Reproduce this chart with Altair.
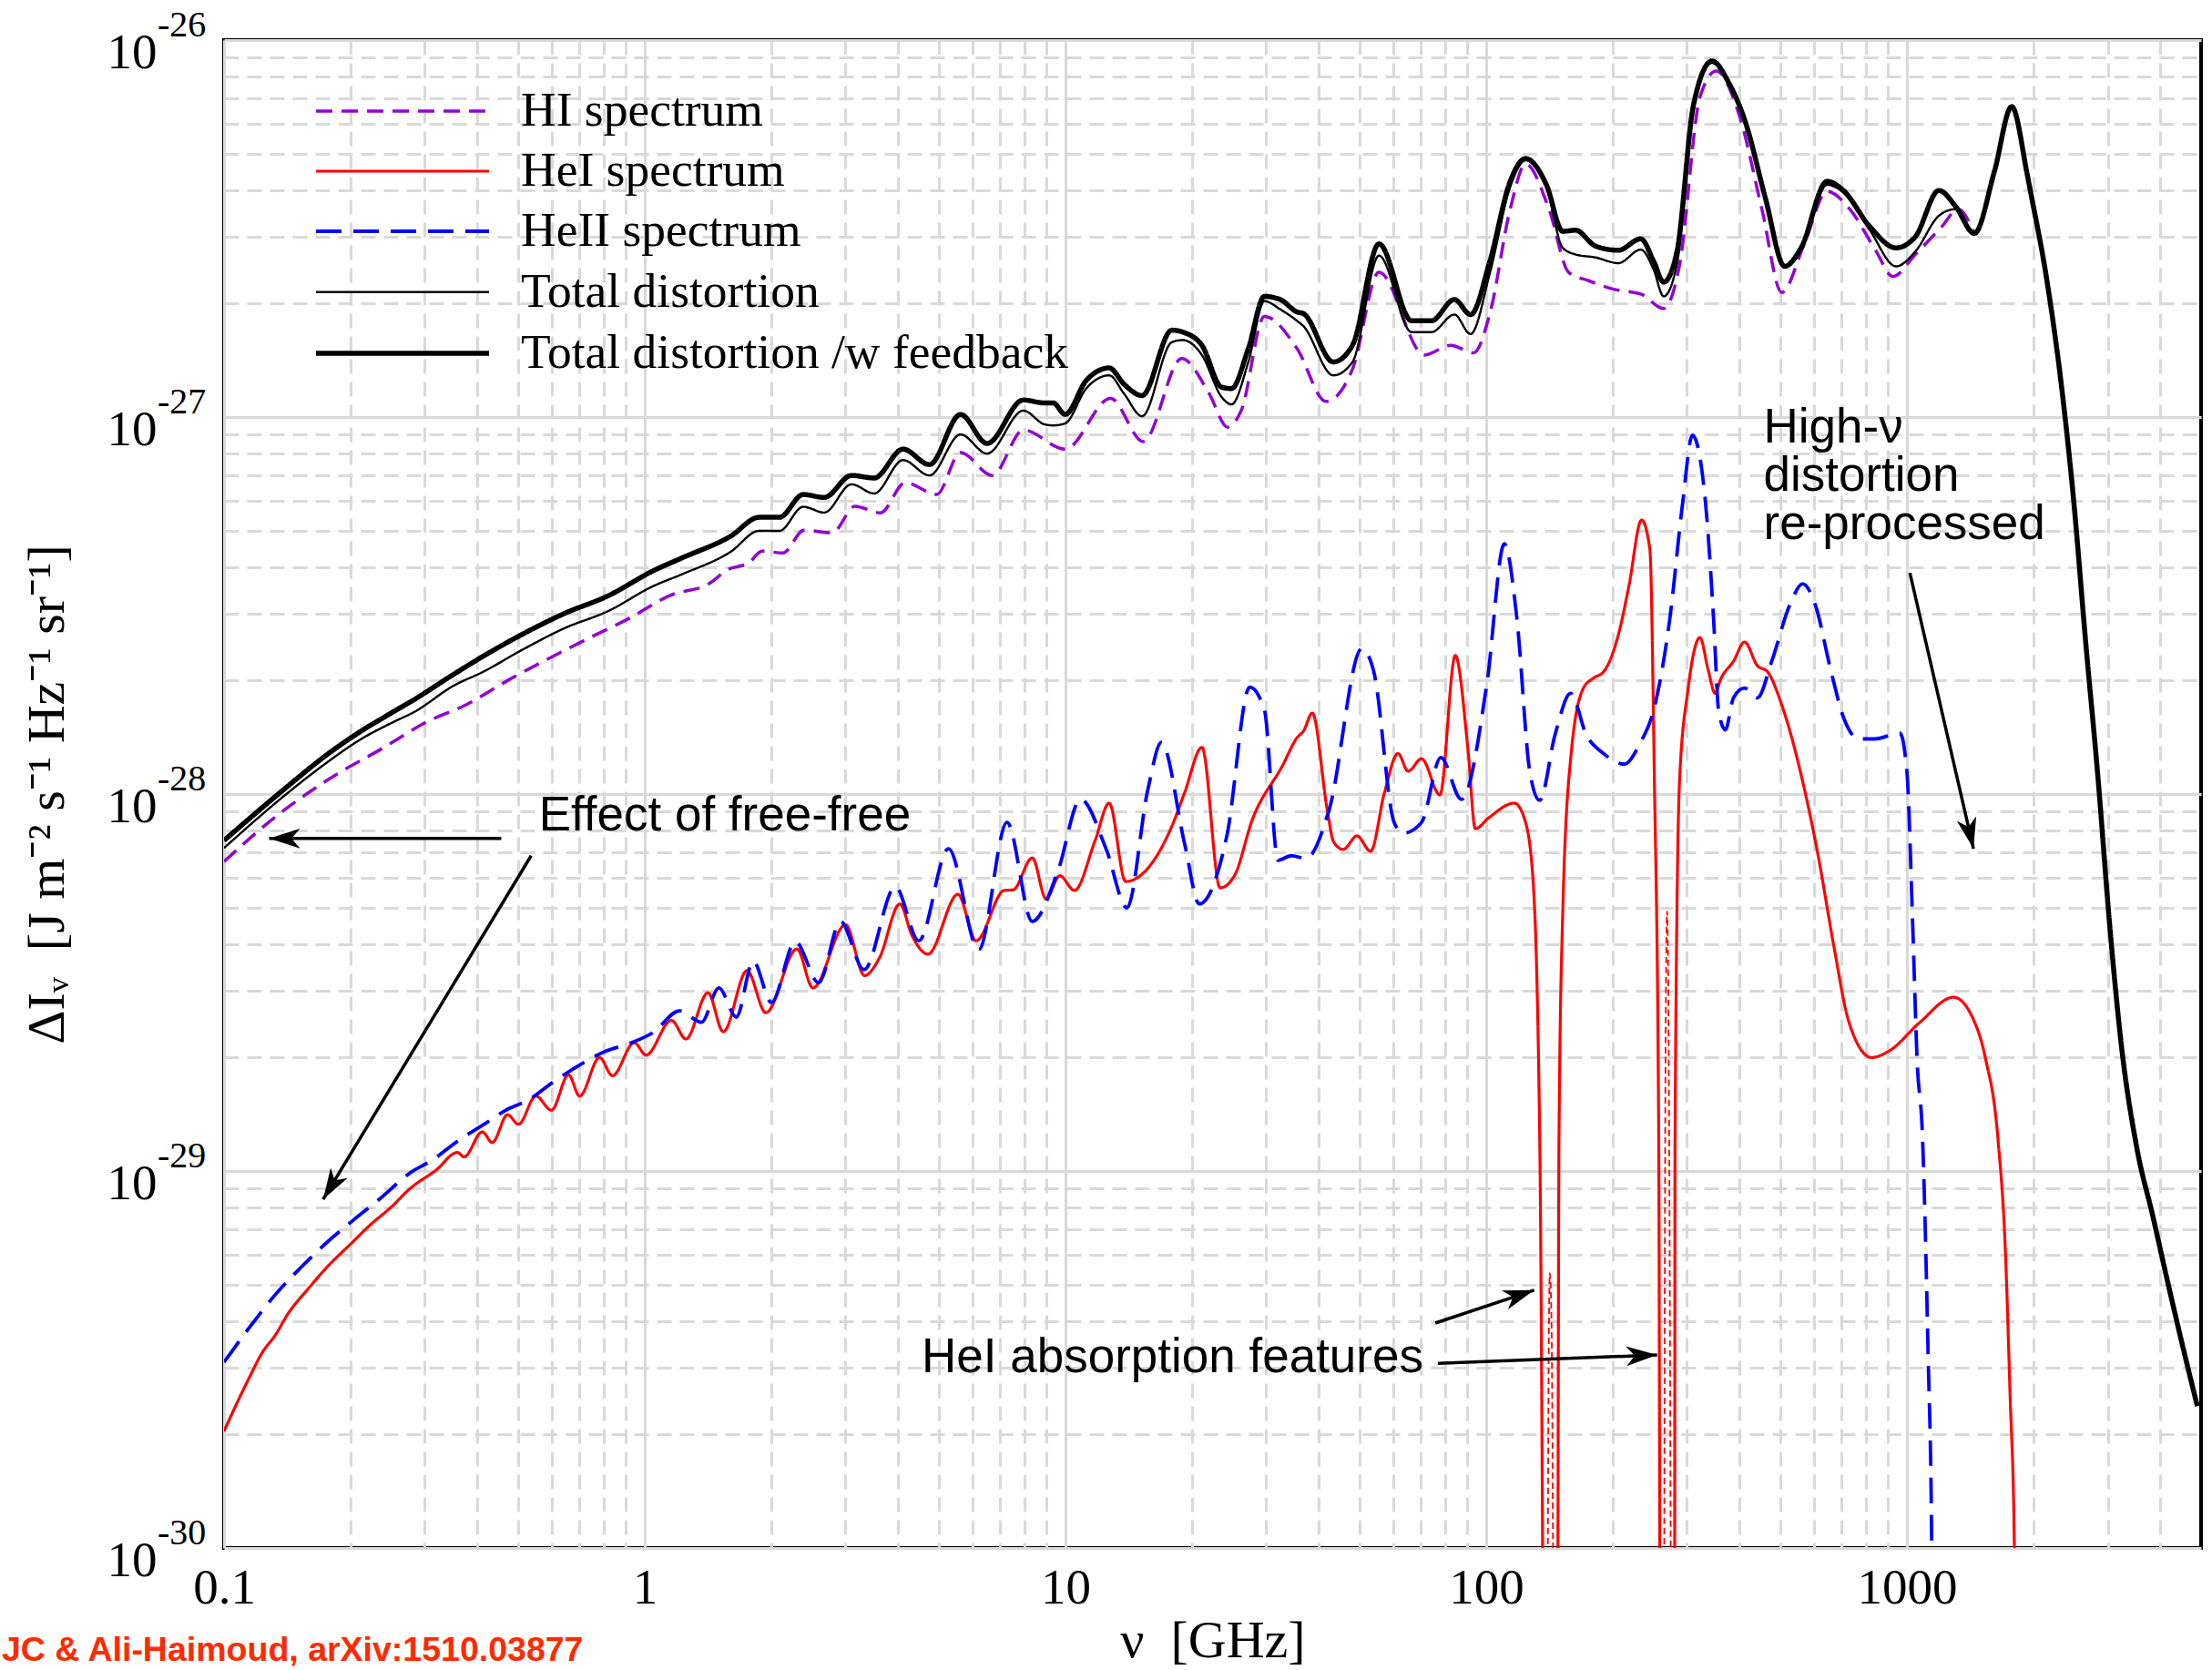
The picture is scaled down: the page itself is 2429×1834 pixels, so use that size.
import math
import altair as alt
import pandas as pd

# ---------------- data ----------------
# frequency in GHz, Delta I_nu in J m^-2 s^-1 Hz^-1 sr^-1

hi_nu = [0.1, 0.130, 0.174, 0.243, 0.302, 0.378, 0.472, 0.588, 0.736, 0.916,
         1.146, 1.43, 1.57, 1.77, 1.90, 2.13, 2.39, 2.79, 3.16, 3.63,
         4.16, 4.94, 5.63, 6.70, 7.94, 9.98, 12.8, 15.3, 18.9, 21.9,
         24.3, 26.2, 29.7, 35.5, 41.6, 48.1, 55.6, 71.3, 82.3, 93.3,
         102, 114, 124, 141, 157, 175, 202, 233, 264, 288,
         322, 352, 399, 452, 504, 570, 646, 731, 845, 925,
         1047, 1210, 1323, 1446]
hi_dI = [6.62e-29, 8.55e-29, 1.08e-28, 1.34e-28, 1.55e-28, 1.73e-28, 2.0e-28, 2.28e-28, 2.59e-28, 2.92e-28,
         3.36e-28, 3.63e-28, 3.93e-28, 4.11e-28, 4.41e-28, 4.36e-28, 5.01e-28, 4.93e-28, 5.80e-28, 5.57e-28,
         6.70e-28, 6.23e-28, 8.05e-28, 7.0e-28, 9.24e-28, 8.22e-28, 1.12e-27, 8.61e-28, 1.43e-27, 1.16e-27,
         9.4e-28, 1.045e-27, 1.85e-27, 1.52e-27, 1.10e-27, 1.34e-27, 2.42e-27, 1.46e-27, 1.55e-27, 1.48e-27,
         1.88e-27, 3.56e-27, 4.69e-27, 3.56e-27, 2.42e-27, 2.30e-27, 2.18e-27, 2.12e-27, 1.94e-27, 2.53e-27,
         7.05e-27, 8.28e-27, 6.34e-27, 3.56e-27, 2.14e-27, 2.88e-27, 3.97e-27, 3.56e-27, 2.75e-27, 2.36e-27,
         2.70e-27, 3.20e-27, 3.56e-27, 3.07e-27]

hei_nu = [0.1, 0.1067, 0.115, 0.1233, 0.1322, 0.1423, 0.158, 0.176, 0.199, 0.224,
          0.249, 0.277, 0.319, 0.359, 0.372, 0.411, 0.434, 0.472, 0.501, 0.551,
          0.600, 0.659, 0.700, 0.781, 0.838, 0.944, 1.007, 1.157, 1.253, 1.413,
          1.537, 1.75, 1.94, 2.30, 2.51, 3.00, 3.33, 3.61, 4.04, 4.31,
          4.71, 5.55, 6.13, 7.15, 7.51, 8.34, 8.99, 9.69, 10.5, 11.76,
          12.7, 13.9, 16.1, 17.9, 19.2, 21.1, 23.3, 25.2, 27.8, 32.8,
          35.5, 36.8, 38.6, 41.9, 43.4, 45.7, 49.3, 53.1, 57.3, 61.7,
          65.2, 70.2, 77.6, 84.4, 90.5, 94.2, 101.4, 116.6, 123.2, 128.9,
          134, 138.7, 147.2, 148.9, 151.8, 158.8, 170.2, 179.8, 190.1, 206.7,
          218.3, 234, 244.8, 251, 257, 260, 280, 281, 288, 302,
          322, 337, 350, 361, 387, 411, 441, 466, 506, 565,
          615, 669, 728, 824, 906, 1073, 1290, 1439, 1535, 1647,
          1714, 1757, 1800, 1830]
hei_dI = [2.04e-30, 2.39e-30, 2.84e-30, 3.30e-30, 3.66e-30, 4.20e-30, 4.85e-30, 5.57e-30, 6.37e-30, 7.24e-30,
          8.0e-30, 8.99e-30, 1.005e-29, 1.12e-29, 1.09e-29, 1.27e-29, 1.19e-29, 1.41e-29, 1.33e-29, 1.58e-29,
          1.45e-29, 1.80e-29, 1.58e-29, 2.0e-29, 1.79e-29, 2.19e-29, 2.03e-29, 2.51e-29, 2.24e-29, 2.97e-29,
          2.34e-29, 3.40e-29, 2.63e-29, 3.88e-29, 3.06e-29, 4.50e-29, 3.30e-29, 3.67e-29, 5.11e-29, 4.23e-29,
          3.76e-29, 5.42e-29, 4.08e-29, 5.55e-29, 5.57e-29, 6.77e-29, 5.27e-29, 6.07e-29, 5.55e-29, 7.53e-29,
          9.46e-29, 5.86e-29, 6.59e-29, 8.22e-29, 1.01e-28, 1.33e-28, 5.64e-29, 6.07e-29, 8.55e-29, 1.19e-28,
          1.41e-28, 1.47e-28, 1.64e-28, 9.06e-29, 7.45e-29, 7.13e-29, 7.74e-29, 7.05e-29, 1.01e-28, 1.28e-28,
          1.15e-28, 1.24e-28, 9.95e-29, 2.33e-28, 1.31e-28, 8.09e-29, 8.65e-29, 9.46e-29, 8.61e-29, 6.12e-29,
          1.22e-29, 1e-31, 1e-31, 1.22e-29, 4.61e-29, 1.25e-28, 1.91e-28, 2.03e-28, 2.11e-28, 2.68e-28,
          3.56e-28, 5.33e-28, 4.47e-28, 1.08e-28, 1.22e-29, 1e-31, 1e-31, 1.22e-29, 1.08e-28, 1.91e-28,
          2.60e-28, 2.13e-28, 1.85e-28, 2.02e-28, 2.25e-28, 2.53e-28, 2.19e-28, 2.11e-28, 1.70e-28, 1.08e-28,
          6.86e-29, 3.99e-29, 2.48e-29, 2.0e-29, 2.08e-29, 2.48e-29, 2.89e-29, 2.52e-29, 2.0e-29, 1.20e-29,
          6.07e-30, 2.59e-30, 1e-30, 1e-31]

# |negative| part of the HeI spectrum inside the absorption features (thin dashed)
hei_neg_seg = [1, 1, 1, 1, 1, 2, 2, 2, 2, 2]
hei_neg_nu = [139.3, 140.7, 141.6, 142.9, 145.2, 264, 266.5, 269, 271.8, 276]
hei_neg_dI = [1e-31, 3.04e-30, 5.36e-30, 4.02e-30, 1e-31, 1e-31, 1.61e-29, 4.88e-29, 1.61e-29, 1e-31]

heii_nu = [0.1, 0.115, 0.1322, 0.1528, 0.176, 0.203, 0.234, 0.277, 0.313, 0.359,
           0.415, 0.468, 0.527, 0.605, 0.700, 0.809, 0.920, 1.047, 1.21, 1.364,
           1.50, 1.65, 1.81, 2.0, 2.28, 2.59, 2.92, 3.32, 3.94, 4.48,
           5.27, 6.22, 7.26, 8.34, 9.59, 10.86, 12.5, 14.0, 15.7, 16.9,
           19.2, 20.8, 24.2, 27.4, 29.7, 32.0, 34.4, 37.3, 42.3, 50.6,
           54.0, 60.4, 63.5, 70.2, 78.0, 87.3, 100.4, 110.4, 118.3, 127,
           134, 145.8, 158.8, 172.7, 190.1, 213, 231.7, 251, 273, 293,
           309, 332, 347, 357, 370, 387, 411, 441, 477, 527,
           565, 605, 659, 706, 769, 837, 962, 1000, 1031, 1057,
           1089, 1122, 1145, 1157]
heii_dI = [3.11e-30, 3.85e-30, 4.69e-30, 5.57e-30, 6.48e-30, 7.41e-30, 8.42e-30, 9.89e-30, 1.07e-29, 1.20e-29,
           1.33e-29, 1.45e-29, 1.54e-29, 1.72e-29, 1.91e-29, 2.08e-29, 2.18e-29, 2.33e-29, 2.66e-29, 2.48e-29,
           3.06e-29, 2.56e-29, 3.60e-29, 2.80e-29, 4.06e-29, 3.16e-29, 4.59e-29, 3.42e-29, 5.68e-29, 4.08e-29,
           7.16e-29, 3.86e-29, 8.41e-29, 4.59e-29, 6.24e-29, 9.68e-29, 7.13e-29, 4.99e-29, 1.03e-28, 1.37e-28,
           7.36e-29, 5.11e-29, 7.78e-29, 1.92e-28, 1.67e-28, 6.67e-29, 6.86e-29, 6.75e-29, 9.06e-29, 2.43e-28,
           2.12e-28, 8.41e-29, 7.87e-29, 8.41e-29, 1.25e-28, 9.68e-29, 1.97e-28, 4.61e-28, 2.91e-28, 1.14e-28,
           9.62e-29, 1.44e-28, 1.85e-28, 1.44e-28, 1.28e-28, 1.20e-28, 1.36e-28, 1.70e-28, 2.91e-28, 5.93e-28,
           8.95e-28, 5.93e-28, 2.91e-28, 1.65e-28, 1.48e-28, 1.80e-28, 1.91e-28, 1.80e-28, 2.25e-28, 3.18e-28,
           3.61e-28, 3.18e-28, 2.13e-28, 1.60e-28, 1.40e-28, 1.40e-28, 1.45e-28, 1.14e-28, 4.61e-29, 1.97e-29,
           1.22e-29, 3.34e-30, 1e-30, 1e-31]

tot_nu = [0.1, 0.139, 0.177, 0.212, 0.252, 0.283, 0.352, 0.413, 0.514, 0.643,
          0.820, 1.047, 1.22, 1.60, 1.87, 2.09, 2.38, 2.67, 3.10, 3.51,
          4.11, 4.75, 5.63, 6.51, 7.94, 8.90, 9.35, 9.98, 11.2, 12.7,
          13.8, 15.2, 17.9, 19.0, 21.1, 23.5, 24.8, 27.2, 29.7, 32.4,
          35.5, 36.8, 43.3, 48.1, 55.6, 66.5, 74.1, 84.0, 91.8, 102,
          114, 124, 139, 152, 163, 182, 206, 233, 250, 264,
          284, 311, 344, 378, 413, 461, 512, 560, 646, 706,
          816, 942, 1047, 1191, 1303, 1446, 1614, 1774, 1931, 1969,
          2143, 2333, 2489, 2655, 2845, 3035, 3238, 3524, 3837, 4156,
          4519, 4898]
tot_dI = [7.19e-29, 9.89e-29, 1.22e-28, 1.40e-28, 1.55e-28, 1.65e-28, 1.94e-28, 2.11e-28, 2.42e-28, 2.75e-28,
          3.06e-28, 3.56e-28, 3.82e-28, 4.39e-28, 4.99e-28, 4.99e-28, 5.78e-28, 5.58e-28, 6.63e-28, 6.27e-28,
          7.69e-28, 7.0e-28, 8.99e-28, 8.0e-28, 1.04e-27, 9.57e-28, 9.5e-28, 9.62e-28, 1.19e-27, 1.29e-27,
          1.15e-27, 1.005e-27, 1.58e-27, 1.60e-27, 1.46e-27, 1.13e-27, 1.08e-27, 1.40e-27, 2.03e-27, 1.93e-27,
          1.80e-27, 1.74e-27, 1.29e-27, 1.40e-27, 2.68e-27, 1.68e-27, 1.68e-27, 1.87e-27, 1.66e-27, 2.41e-27,
          4.08e-27, 4.80e-27, 4.08e-27, 2.81e-27, 2.70e-27, 2.65e-27, 2.56e-27, 2.78e-27, 2.46e-27, 2.09e-27,
          2.55e-27, 6.6e-27, 8.7e-27, 7.6e-27, 6.0e-27, 3.77e-27, 2.51e-27, 2.78e-27, 4.13e-27, 3.94e-27,
          3.13e-27, 2.51e-27, 2.75e-27, 3.42e-27, 3.56e-27, 3.07e-27, 4.49e-27, 6.66e-27, 4.40e-27, 3.93e-27,
          2.36e-27, 1.19e-27, 6.03e-28, 2.58e-28, 1.10e-28, 4.44e-29, 2.12e-29, 1.14e-29, 7.62e-30, 5.13e-30,
          3.44e-30, 2.38e-30]

totfb_nu = list(tot_nu)
totfb_dI = [7.53e-29, 1.03e-28, 1.28e-28, 1.47e-28, 1.65e-28, 1.78e-28, 2.08e-28, 2.32e-28, 2.66e-28, 3.01e-28,
            3.36e-28, 3.91e-28, 4.22e-28, 4.83e-28, 5.42e-28, 5.42e-28, 6.23e-28, 6.12e-28, 7.0e-28, 6.89e-28,
            8.22e-28, 7.48e-28, 1.016e-27, 8.51e-28, 1.11e-27, 1.09e-27, 1.09e-27, 1.016e-27, 1.25e-27, 1.35e-27,
            1.22e-27, 1.14e-27, 1.70e-27, 1.68e-27, 1.55e-27, 1.20e-27, 1.19e-27, 1.52e-27, 2.09e-27, 2.05e-27,
            1.90e-27, 1.88e-27, 1.40e-27, 1.55e-27, 2.88e-27, 1.80e-27, 1.80e-27, 2.05e-27, 1.87e-27, 2.59e-27,
            4.22e-27, 4.85e-27, 4.13e-27, 3.11e-27, 3.13e-27, 2.84e-27, 2.77e-27, 2.97e-27, 2.59e-27, 2.28e-27,
            2.75e-27, 6.74e-27, 8.8e-27, 7.66e-27, 6.06e-27, 3.80e-27, 2.51e-27, 2.81e-27, 4.22e-27, 3.99e-27,
            3.20e-27, 2.81e-27, 3.01e-27, 3.99e-27, 3.63e-27, 3.07e-27, 4.49e-27, 6.66e-27, 4.40e-27, 3.93e-27,
            2.36e-27, 1.19e-27, 6.03e-28, 2.58e-28, 1.10e-28, 4.44e-29, 2.12e-29, 1.14e-29, 7.62e-30, 5.13e-30,
            3.44e-30, 2.38e-30]

series_names = ["HI spectrum", "HeI spectrum", "HeII spectrum",
                "Total distortion", "Total distortion /w feedback"]
series_colors = ["#9400d3", "#ff0000", "#0000ff", "#000000", "#000000"]
series_dash = [[18, 10], [1, 0], [28, 13], [1, 0], [1, 0]]
series_width = [3.5, 3.2, 3.8, 2.4, 5.5]

# annotations (data coordinates)
ann_nu = [0.560, 4.55]
ann_dI = [7.99e-29, 2.92e-30]
ann_text = ["Effect of free-free", "HeI absorption features"]

block_nu = 456
block_dI = 8.55e-28
block_lines = ["High-\u03bd", "distortion", "re-processed"]

arr_nu1 = [0.456, 0.537, 1016, 75.7, 76.7]
arr_dI1 = [7.62e-29, 6.86e-29, 3.86e-28, 3.95e-30, 3.09e-30]
arr_nu2 = [0.128, 0.172, 1439, 130, 254.7]
arr_dI2 = [7.62e-29, 8.41e-30, 7.16e-29, 4.83e-30, 3.25e-30]

y_decades = [1e-26, 1e-27, 1e-28, 1e-29, 1e-30]
y_sup = ["-26", "-27", "-28", "-29", "-30"]

credit = "JC & Ali-Haimoud, arXiv:1510.03877"

# ---------------- layout ----------------
W, H = 2171, 1656
XMIN, XMAX = 0.1, 5000
YMIN, YMAX = 1e-30, 1e-26

x_ticks = [m * d for d in [0.1, 1, 10, 100] for m in range(1, 10)] + [1000, 2000, 3000, 4000]
y_ticks = [m * 10.0 ** e for e in [-30, -29, -28, -27] for m in range(1, 10)] + [1e-26]

DEC = "abs(log(datum.value)/LN10 - round(log(datum.value)/LN10)) < 0.001"
grid_dash = {"condition": {"test": DEC, "value": []}, "value": [16, 9]}

x_scale = alt.Scale(type="log", domain=[XMIN, XMAX], nice=False)
y_scale = alt.Scale(type="log", domain=[YMIN, YMAX], nice=False)

x_axis = alt.Axis(
    values=x_ticks, labelExpr=f"({DEC}) ? format(datum.value, '~g') : ''",
    grid=True, gridColor="#d9d9d9", gridWidth=3, gridDash=grid_dash,
    ticks=False, tickSize=0, domain=False,
    labelFont="Liberation Serif", labelFontSize=55, labelColor="black",
    labelBaseline="alphabetic", labelPadding=60, labelFlush=False, labelOverlap=False,
    title="\u03bd\u00a0\u00a0[GHz]", titleFont="Liberation Serif", titleFontSize=58,
    titleFontWeight="normal", titleColor="black", titleBaseline="alphabetic",
    titleX=W / 2, titleY=119, titleAlign="center")

y_axis = alt.Axis(
    values=y_ticks, labelExpr=f"({DEC}) ? '10' : ''",
    grid=True, gridColor="#d9d9d9", gridWidth=3, gridDash=grid_dash,
    ticks=False, tickSize=0, domain=False,
    labelFont="Liberation Serif", labelFontSize=55, labelColor="black",
    labelBaseline="middle", labelOffset=13, labelPadding=74, labelOverlap=False,
    title="\u0394I\u1d65\u00a0\u00a0[J m\u207b\u00b2 s\u207b\u00b9 Hz\u207b\u00b9 sr\u207b\u00b9]",
    titleFont="Liberation Serif", titleFontSize=58, titleFontWeight="normal",
    titleColor="black", titleAngle=270, titleAlign="center", titleBaseline="middle",
    titleX=-194, titleY=H / 2)

X = alt.X("nu:Q", scale=x_scale, axis=x_axis)
Y = alt.Y("dI:Q", scale=y_scale, axis=y_axis)

legend = alt.Legend(
    title=None, orient="none", legendX=98, legendY=51, padding=0,
    symbolType="M-1,0H6.6", symbolSize=2500,
    labelFont="Liberation Serif", labelFontSize=53.5, labelColor="black",
    labelOffset=172, rowPadding=12, labelLimit=2000)

color_enc = alt.Color("series:N", scale=alt.Scale(domain=series_names, range=series_colors), legend=legend)
dash_enc = alt.StrokeDash("series:N", scale=alt.Scale(domain=series_names, range=series_dash), legend=legend)
width_enc = alt.StrokeWidth("series:N", scale=alt.Scale(type="ordinal", domain=series_names, range=series_width), legend=legend)

frames = []
for name, nus, vals in zip(series_names,
                           [hi_nu, hei_nu, heii_nu, tot_nu, totfb_nu],
                           [hi_dI, hei_dI, heii_dI, tot_dI, totfb_dI]):
    frames.append(pd.DataFrame({"series": name, "nu": nus, "dI": vals}))
lines_df = pd.concat(frames, ignore_index=True)

layers = []
for name in series_names:
    layers.append(
        alt.Chart(lines_df).transform_filter(alt.datum.series == name)
        .mark_line(clip=True, interpolate="monotone")
        .encode(x=X, y=Y, color=color_enc, strokeDash=dash_enc, strokeWidth=width_enc)
    )

neg_df = pd.DataFrame({"seg": hei_neg_seg, "nu": hei_neg_nu, "dI": hei_neg_dI})
layers.append(
    alt.Chart(neg_df).mark_line(clip=True, color="#ff0000", strokeWidth=1.8, strokeDash=[7, 4],
                                interpolate="monotone")
    .encode(x=X, y=Y, detail="seg:N")
)

# arrows
PXX = W / math.log10(XMAX / XMIN)
PXY = H / math.log10(YMAX / YMIN)
arr_ang = []
for a, b, c, d in zip(arr_nu1, arr_dI1, arr_nu2, arr_dI2):
    dx = (math.log10(c) - math.log10(a)) * PXX
    dy = -(math.log10(d) - math.log10(b)) * PXY
    arr_ang.append(math.degrees(math.atan2(dy, dx)) % 360)

arr_df = pd.DataFrame({"nu": arr_nu1, "dI": arr_dI1, "nu2": arr_nu2, "dI2": arr_dI2})
layers.append(
    alt.Chart(arr_df).mark_rule(color="black", strokeWidth=3.5)
    .encode(x=X, y=Y, x2="nu2:Q", y2="dI2:Q")
)
head_df = pd.DataFrame({"nu": arr_nu2, "dI": arr_dI2, "ang": arr_ang})
layers.append(
    alt.Chart(head_df).mark_point(shape="M0,0L-1,-0.32L-0.72,0L-1,0.32Z", filled=True,
                                  color="black", opacity=1, size=4624)
    .encode(x=X, y=Y, angle=alt.Angle("ang:Q", scale=None))
)

ann_df = pd.DataFrame({"nu": ann_nu, "dI": ann_dI, "t": ann_text})
layers.append(
    alt.Chart(ann_df).mark_text(align="left", baseline="alphabetic", font="Liberation Sans",
                                fontSize=53, color="black")
    .encode(x=X, y=Y, text="t:N")
)

block_df = pd.DataFrame({"nu": [block_nu], "dI": [block_dI]})
layers.append(
    alt.Chart(block_df).mark_text(align="left", baseline="alphabetic", font="Liberation Sans",
                                  fontSize=53, color="black", lineHeight=53, text=block_lines)
    .encode(x=X, y=Y)
)

sup_df = pd.DataFrame({"dI": y_decades, "t": y_sup})
layers.append(
    alt.Chart(sup_df).mark_text(align="left", baseline="middle", font="Liberation Serif",
                                fontSize=40, color="black", dy=-16)
    .encode(x=alt.value(-73), y=Y, text="t:N")
)

credit_df = pd.DataFrame({"t": [credit]})
layers.append(
    alt.Chart(credit_df).mark_text(align="left", baseline="alphabetic", font="Liberation Sans",
                                   fontWeight="bold", fontSize=37.5, color="#ff2a00")
    .encode(x=alt.value(-244), y=alt.value(1780), text="t:N")
)

chart = (
    alt.layer(*layers)
    .properties(width=W, height=H, background="white",
                padding={"left": 246, "top": 44, "right": 12, "bottom": 134},
                autosize=alt.AutoSizeParams(type="none"))
    .configure_view(stroke="black", strokeWidth=4)
)

chart.save("out.html", embed_options={"renderer": "svg", "actions": False})
